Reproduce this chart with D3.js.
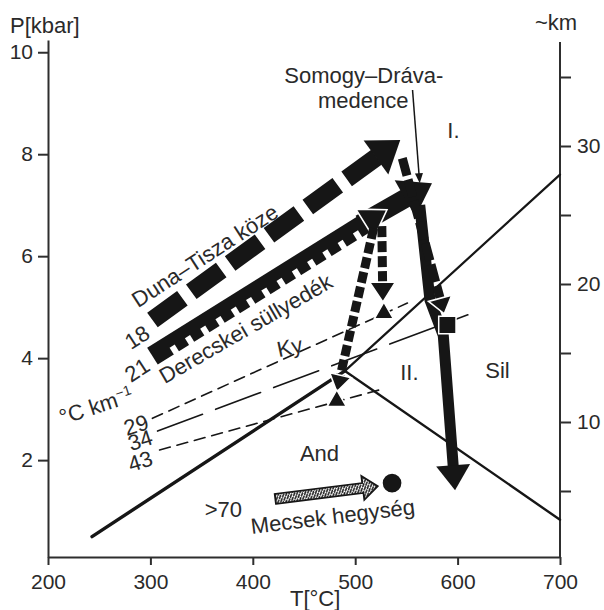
<!DOCTYPE html>
<html>
<head>
<meta charset="utf-8">
<script src="https://cdn.jsdelivr.net/npm/d3@7/dist/d3.min.js"></script>
<style>
  body { margin: 0; background: #fff; }
  svg { display: block; font-family: "Liberation Sans", Arial, sans-serif; }
  text { fill: #2a2a2a; }
</style>
</head>
<body>
<svg id="chart" width="604" height="610"></svg>
<script>
"use strict";

// axis ticks
const tempTicks = [200, 300, 400, 500, 600, 700];
const pressTicks = [2, 4, 6, 8, 10];
const depthTicks = [5, 10, 15, 20, 25, 30, 35];
const depthLabels = [10, 20, 30];

// Al2SiO5 boundaries, [T °C, P kbar]
const triplePoint = [490, 3.75];
const kyAnd = [[243, 0.5], triplePoint];
const kySil = [triplePoint, [700, 7.6]];
const andSil = [triplePoint, [700, 0.83]];

// geotherms (°C/km)
const geo29 = [[302, 2.82], [551, 5.08]];
const geo34 = [[307, 2.57], [610, 4.85]];
const geo43 = [[309, 2.2], [526, 3.39]];

// P-T paths
const dunaTiszaUp = [[302, 4.75], [544, 8.28]];
const dunaTiszaDown = [[546, 7.92], [587, 4.87]];
const derecskeiUp = [[302, 4.04], [531, 6.91]];
const derecskeiDownA = [[526, 6.59], [527, 5.1]];
const derecskeiDownB = [[518, 6.55], [482, 3.34]];
const somogyUp = [[505, 6.63], [575, 7.43]];
const somogyDown = [[563, 7.0], [573, 5.14], [586, 4.45], [597.5, 1.41]];
const mecsek = [[422, 1.24], [522, 1.49]];
const pointer = [[556, 9.26], [563, 7.43]];

// samples
const triangles = [[482, 3.16], [528, 4.88]];
const squares = [[590, 4.65]];
const circles = [[536, 1.55]];

const svg = d3.select("#chart");
const ink = "#161616";
const axisInk = "#2e2e2e";

const x = d3.scaleLinear().domain([200, 700]).range([48, 560]);
const y = d3.scaleLinear().domain([0.1, 10.24]).range([557, 40]);
const yKm = d3.scaleLinear().domain([0, 30]).range([560, 146]);

// hatching for the Mecsek arrow
const defs = svg.append("defs");
const pat = defs.append("pattern")
  .attr("id", "hatch")
  .attr("patternUnits", "userSpaceOnUse")
  .attr("width", 3.5).attr("height", 3.5)
  .attr("patternTransform", "rotate(-25)");
pat.append("rect").attr("width", 3.5).attr("height", 3.5).attr("fill", "#fff");
pat.append("path").attr("d", "M0,3.5L3.5,0").attr("stroke", ink).attr("stroke-width", 1.5);

// ---- axes
function styleAxis(g) {
  g.attr("font-family", null).attr("font-size", 21);
  g.selectAll("path.domain").attr("stroke", axisInk).attr("stroke-width", 2);
  g.selectAll(".tick line").attr("stroke", axisInk).attr("stroke-width", 2);
  g.selectAll(".tick text").attr("fill", axisInk);
}

svg.append("g")
  .attr("transform", "translate(0," + y.range()[0] + ")")
  .call(d3.axisBottom(x).tickValues(tempTicks).tickSize(8).tickSizeOuter(0).tickPadding(9))
  .call(styleAxis);

svg.append("g")
  .attr("transform", "translate(" + x.range()[0] + ",0)")
  .call(d3.axisLeft(y).tickValues(pressTicks).tickSize(10).tickSizeOuter(0).tickPadding(5))
  .call(styleAxis);

let right = svg.append("g")
  .attr("transform", "translate(" + x.range()[1] + ",0)")
  .call(d3.axisRight(yKm).tickValues(depthTicks).tickSize(11).tickPadding(6)
    .tickFormat(function(d) { return depthLabels.indexOf(d) >= 0 ? d : ""; }))
  .call(styleAxis);
right.select(".domain").remove();
right.append("line")
  .attr("y1", 42).attr("y2", y.range()[0])
  .attr("stroke", axisInk).attr("stroke-width", 2);

svg.append("text").attr("x", 10).attr("y", 33).attr("font-size", 22).text("P[kbar]");
svg.append("text").attr("x", 535).attr("y", 30).attr("font-size", 22).text("~km");
svg.append("text").attr("x", 290).attr("y", 606).attr("font-size", 22).text("T[°C]");

// ---- lines
let line = d3.line().x(function(d) { return x(d[0]); }).y(function(d) { return y(d[1]); });

function drawLine(data, width, dash) {
  svg.append("path")
    .attr("d", line(data))
    .attr("fill", "none")
    .attr("stroke", ink)
    .attr("stroke-width", width)
    .attr("stroke-dasharray", dash || null)
    .attr("stroke-linecap", "round");
}

drawLine(kyAnd, 3.4);
drawLine(kySil, 2.2);
drawLine(andSil, 2.4);

drawLine(geo29, 1.6, "11 7");
drawLine(geo34, 1.6, "48 14");
drawLine(geo43, 1.6, "11 7");

// ---- arrows
function arrow(data, o) {
  let p = data.map(function(d) { return [x(d[0]), y(d[1])]; }),
    tip = p[p.length - 1],
    prev = p[p.length - 2],
    len = Math.hypot(tip[0] - prev[0], tip[1] - prev[1]),
    u = [(tip[0] - prev[0]) / len, (tip[1] - prev[1]) / len],
    n = [-u[1], u[0]],
    base = [tip[0] - u[0] * o.hl, tip[1] - u[1] * o.hl],
    inner = [base[0] + u[0] * 2, base[1] + u[1] * 2],
    g = svg.append("g")
  ;
  let shaft = p.slice(0, -1).concat([inner]);

  if (o.fill) {
    // outlined arrow as one polygon
    let a = p[0], w = o.w / 2;
    let poly = [
      [a[0] + n[0] * w, a[1] + n[1] * w],
      [base[0] + n[0] * w, base[1] + n[1] * w],
      [base[0] + n[0] * o.hw, base[1] + n[1] * o.hw],
      tip,
      [base[0] - n[0] * o.hw, base[1] - n[1] * o.hw],
      [base[0] - n[0] * w, base[1] - n[1] * w],
      [a[0] - n[0] * w, a[1] - n[1] * w]
    ];
    g.append("path").attr("d", "M" + poly.join("L") + "Z")
      .attr("fill", o.fill).attr("stroke", ink).attr("stroke-width", 1.8)
      .attr("stroke-linejoin", "miter");
    return;
  }

  g.append("path")
    .attr("d", d3.line()(shaft))
    .attr("fill", "none")
    .attr("stroke", ink)
    .attr("stroke-width", o.w)
    .attr("stroke-dasharray", o.dash || null)
    .attr("stroke-linejoin", "miter");

  if (o.teeth) {
    let ang = Math.atan2(u[1], u[0]) * 180 / Math.PI,
      a = p[0],
      L = Math.hypot(base[0] - a[0], base[1] - a[1]);
    for (let s = 22; s < L - 10; s += 18) {
      let cx = a[0] + u[0] * s + n[0] * (o.w / 2 - 3),
        cy = a[1] + u[1] * s + n[1] * (o.w / 2 - 3);
      g.append("rect")
        .attr("x", -3).attr("y", -5).attr("width", 6).attr("height", 10)
        .attr("transform", "translate(" + cx + "," + cy + ") rotate(" + ang + ")")
        .attr("fill", "#fff");
    }
  }

  let head = [
    [base[0] + n[0] * o.hw, base[1] + n[1] * o.hw],
    tip,
    [base[0] - n[0] * o.hw, base[1] - n[1] * o.hw]
  ];
  g.append("path").attr("d", "M" + head.join("L") + "Z")
    .attr("fill", ink)
    .attr("stroke", o.outline ? "#fff" : "none")
    .attr("stroke-width", 1.6)
    .attr("stroke-linejoin", "miter");
}

arrow(somogyUp, {w: 19, hw: 21, hl: 31});
arrow(dunaTiszaUp, {w: 18, hw: 21, hl: 30, dash: "37 11"});
arrow(somogyDown, {w: 11, hw: 17, hl: 25});
arrow(dunaTiszaDown, {w: 9, hw: 12, hl: 16, dash: "18 4", outline: true});
arrow(derecskeiUp, {w: 20, hw: 17, hl: 26, teeth: true, outline: true});
arrow(derecskeiDownA, {w: 9, hw: 13, hl: 20, dash: "11 4", outline: true});
arrow(derecskeiDownB, {w: 9, hw: 11, hl: 17, dash: "11 4", outline: true});
arrow(mecsek, {w: 10, hw: 12, hl: 15, fill: "url(#hatch)"});
arrow(pointer, {w: 1.5, hw: 4, hl: 10});

// ---- sample symbols
function symbols(data, type, size) {
  svg.selectAll(null)
    .data(data)
    .enter().append("path")
      .attr("transform", function(d) { return "translate(" + x(d[0]) + "," + y(d[1]) + ")"; })
      .attr("d", d3.symbol().type(type).size(size))
      .attr("fill", ink)
      .attr("stroke", "#fff")
      .attr("stroke-width", 1.5);
}
symbols(triangles, d3.symbolTriangle, 160);
symbols(squares, d3.symbolSquare, 300);
symbols(circles, d3.symbolCircle, 320);

// ---- labels
function label(str, T, P, o) {
  o = o || {};
  return svg.append("text")
    .attr("transform", "translate(" + x(T) + "," + y(P) + ") rotate(" + (o.rotate || 0) + ")")
    .attr("text-anchor", o.anchor || "start")
    .attr("dy", o.dy || null)
    .attr("font-size", o.size || 22)
    .text(str);
}

label("Duna–Tisza köze", 288, 4.98, {rotate: -33});
label("Derecskei süllyedék", 314, 3.49, {rotate: -30});
label("18", 287, 4.41, {rotate: -33, anchor: "middle", dy: "0.35em"});
label("21", 287, 3.77, {rotate: -33, anchor: "middle", dy: "0.35em"});
let unit = label("°C km", 214, 2.69, {rotate: -18});
unit.append("tspan").attr("dy", -8).attr("font-size", 14).text("−1");
label("29", 286, 2.69, {rotate: -18, anchor: "middle", dy: "0.35em"});
label("34", 290, 2.39, {rotate: -18, anchor: "middle", dy: "0.35em"});
label("43", 290, 1.98, {rotate: -18, anchor: "middle", dy: "0.35em"});
label("Ky", 436, 4.22, {rotate: -12, anchor: "middle", dy: "0.35em"});
label("And", 446, 1.98);
label(">70", 353, 0.88);
label("Mecsek hegység", 399, 0.55, {rotate: -7});
label("Sil", 627, 3.61);
label("II.", 544, 3.57);
label("I.", 590, 8.32);
label("Somogy–Dráva-", 586, 9.4, {anchor: "end"});
label("medence", 552, 8.9, {anchor: "end"});
</script>
</body>
</html>
